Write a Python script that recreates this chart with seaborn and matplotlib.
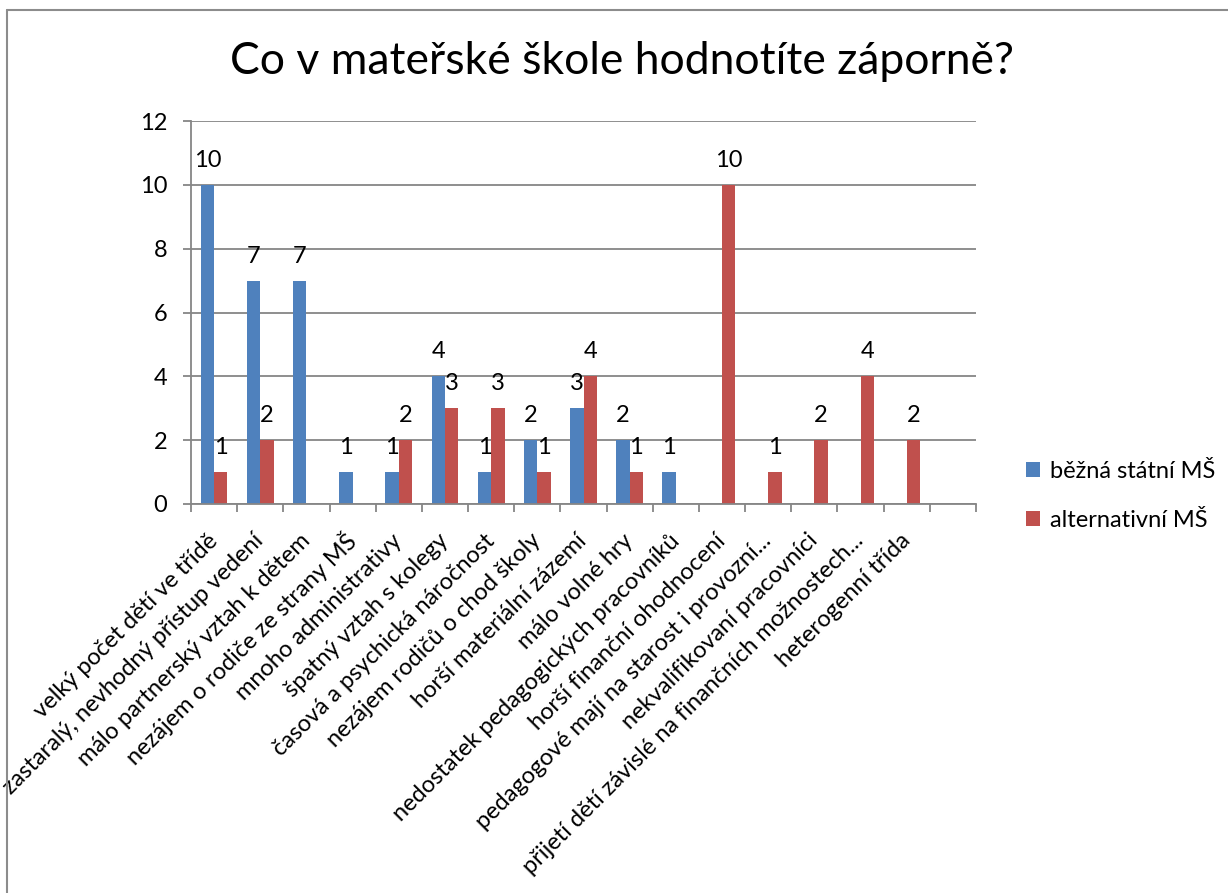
import matplotlib
matplotlib.use("Agg")
import matplotlib.pyplot as plt
import matplotlib.lines as mlines
import seaborn as sns
import pandas as pd
import numpy as np

categories = [
    "velký počet dětí ve třídě",
    "zastaralý, nevhodný přístup vedení",
    "málo partnerský vztah k dětem",
    "nezájem o rodiče ze strany MŠ",
    "mnoho administrativy",
    "špatný vztah s kolegy",
    "časová a psychická náročnost",
    "nezájem rodičů o chod školy",
    "horší materiální zázemí",
    "málo volné hry",
    "nedostatek pedagogických pracovníků",
    "horší finanční ohodnocení",
    "pedagogové mají na starost i provozní...",
    "nekvalifikovaní pracovníci",
    "přijetí dětí závislé na finančních možnostech...",
    "heterogenní třída",
    "",
]
series_names = ["běžná státní MŠ", "alternativní MŠ"]
bezna = [10, 7, 7, 1, 1, 4, 1, 2, 3, 2, 1, None, None, None, None, None, None]
alternativni = [1, 2, None, None, 2, 3, 3, 1, 4, 1, None, 10, 1, 2, 4, 2, None]
y_ticks = [0, 2, 4, 6, 8, 10, 12]

rows = []
for cat, v in zip(categories, bezna):
    if v is not None:
        rows.append({"kategorie": cat, "skupina": series_names[0], "pocet": v})
for cat, v in zip(categories, alternativni):
    if v is not None:
        rows.append({"kategorie": cat, "skupina": series_names[1], "pocet": v})
df = pd.DataFrame(rows)

sns.set_style("white")
plt.rcParams["font.family"] = ["Lato", "DejaVu Sans"]
plt.rcParams["text.color"] = "black"
plt.rcParams["xtick.color"] = "black"
plt.rcParams["ytick.color"] = "black"
plt.rcParams["axes.labelcolor"] = "black"

W, H = 1228, 893
fig = plt.figure(figsize=(W / 100, H / 100), dpi=100)
ax = fig.add_axes([191 / W, 1 - 504 / H, (976 - 191) / W, (504 - 121) / H])

colors = {series_names[0]: "#4F81BD", series_names[1]: "#C0504D"}
sns.barplot(data=df, x="kategorie", y="pocet", hue="skupina", order=categories,
            hue_order=series_names, palette=colors, width=0.58, gap=0,
            dodge=True, ax=ax, legend=True, linewidth=0, saturation=1)

for cont in ax.containers:
    ax.bar_label(cont, fmt="%d", padding=10, fontsize=17, color="black")

grid_c = "#868686"
ax.set_ylim(0, 12)
ax.set_xlim(-0.5, len(categories) - 0.5)
ax.set_yticks(y_ticks)
ax.yaxis.grid(True, color=grid_c, linewidth=1.3)
ax.set_axisbelow(True)
for s in ["top", "right"]:
    ax.spines[s].set_visible(False)
for s in ["left", "bottom"]:
    ax.spines[s].set_color(grid_c)
    ax.spines[s].set_linewidth(1.3)

ax.set_xticks(np.arange(len(categories)))
ax.set_xticklabels(categories, rotation=45, ha="right", va="center",
                   rotation_mode="anchor", fontsize=17, color="black")
ax.set_xticks(np.arange(len(categories) + 1) - 0.5, minor=True)
ax.tick_params(axis="x", which="major", length=0, pad=24, labelcolor="black")
ax.tick_params(axis="x", which="minor", length=6, width=1.3, color=grid_c,
               direction="out", bottom=True)
ax.tick_params(axis="y", length=6, width=1.3, color=grid_c, direction="out",
               left=True, labelsize=17, pad=11, labelcolor="black")
ax.set_xlabel("")
ax.set_ylabel("")

leg = ax.legend_
handles = leg.legend_handles
leg.remove()
fig.legend(handles, series_names, loc="center left",
           bbox_to_anchor=(1005 / W, 1 - 496 / H), frameon=False,
           fontsize=17, handlelength=0.6, handleheight=0.6, handletextpad=0.4,
           labelspacing=1.2, labelcolor="black")

fig.text(622 / W, 1 - 62 / H, "Co v mateřské škole hodnotíte záporně?",
         ha="center", va="center", fontsize=32, color="black")

fig.add_artist(mlines.Line2D([6.5 / W, 6.5 / W], [0, 1 - 9.5 / H],
                             transform=fig.transFigure, color="#8c8c8c", linewidth=1.5))
fig.add_artist(mlines.Line2D([6.5 / W, 1], [1 - 9.5 / H, 1 - 9.5 / H],
                             transform=fig.transFigure, color="#8c8c8c", linewidth=1.5))

fig.savefig("out.png", dpi=100)
